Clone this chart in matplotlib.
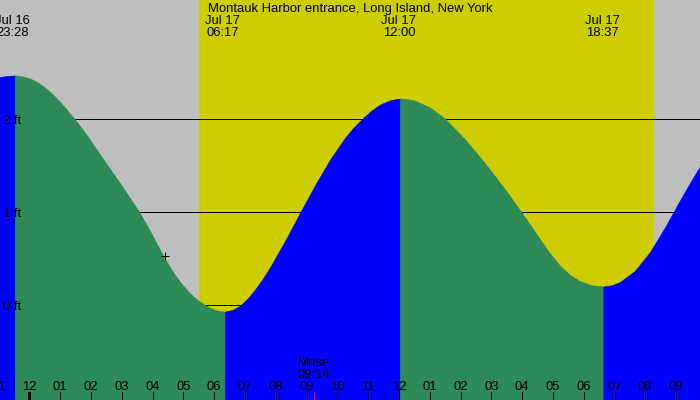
import numpy as np
import matplotlib
matplotlib.use("Agg")
import matplotlib.pyplot as plt

# tide curve: hours from Jul 17 00:00, height in ft
curve_hours = [-1.0, -0.724, -0.464, -0.237, 0.023, 0.266, 0.510, 0.753, 0.997, 1.484,
               1.890, 2.295, 2.620, 2.945, 3.269, 3.562, 3.756, 3.919, 4.114, 4.341,
               4.568, 4.731, 4.958, 5.218, 5.477, 5.705, 5.867, 6.029, 6.192, 6.354,
               6.614, 6.864, 7.101, 7.328, 7.571, 7.815, 8.302, 8.789, 9.276, 9.763,
               10.250, 10.510, 10.802, 11.094, 11.386, 11.711, 12.036,
               12.263, 12.523, 13.010, 13.497, 14.146, 14.795, 15.445, 15.997, 16.419,
               16.841, 17.231, 17.555, 17.880, 18.269, 18.636,
               18.919, 19.179, 19.666, 20.153, 20.640, 21.094, 21.451, 21.825]
curve_feet = [2.452, 2.466, 2.471, 2.463, 2.439, 2.398, 2.342, 2.271, 2.189, 1.998,
              1.819, 1.622, 1.467, 1.313, 1.153, 1.005, 0.896, 0.800, 0.677, 0.535,
              0.409, 0.326, 0.224, 0.127, 0.054, 0.003, -0.027, -0.048, -0.062, -0.068,
              -0.048, 0.002, 0.077, 0.169, 0.281, 0.409, 0.691, 0.994, 1.291, 1.566,
              1.800, 1.905, 2.003, 2.090, 2.158, 2.205, 2.224,
              2.218, 2.200, 2.127, 2.006, 1.785, 1.527, 1.248, 0.992, 0.789,
              0.586, 0.425, 0.326, 0.259, 0.215, 0.202,
              0.216, 0.251, 0.372, 0.573, 0.839, 1.110, 1.317, 1.520]

event_hours = [-0.533, 6.283, 12.0, 18.617]
event_dates = ["Jul 16", "Jul 17", "Jul 17", "Jul 17"]
event_times = ["23:28", "06:17", "12:00", "18:37"]

sunrise = 5.51
sunset = 20.28
moonrise = 9.233
moonrise_label = "09:14"
now_hour, now_feet = 4.41, 0.53

grid_feet = [0, 1, 2]
grid_labels = ["0 ft", "1 ft", "2 ft"]

tick_hours = list(range(-1, 22))
tick_labels = ["11", "12", "01", "02", "03", "04", "05", "06", "07", "08", "09", "10", "11",
               "12", "01", "02", "03", "04", "05", "06", "07", "08", "09"]

title = "Montauk Harbor entrance, Long Island, New York"

# pixel layout of the 700x400 picture
X0, PX_H = 29.3, 30.8
Y0, PX_FT = 305.3, 93.0

def tx(xp):
    return (xp - X0) / PX_H

def hy(yp):
    return (Y0 - yp) / PX_FT

plt.rcParams['font.family'] = ['Liberation Sans', 'DejaVu Sans']
FS = 9.4
PX = 0.72  # one pixel in points

fig = plt.figure(figsize=(7, 4), dpi=100)
ax = fig.add_axes([0, 0, 1, 1])
ax.set_xlim(tx(0), tx(700))
ax.set_ylim(hy(400), hy(0))
ax.axis('off')
ax.axvspan(tx(-50), tx(750), color='#BEBEBE', zorder=0, lw=0)
ax.axvspan(sunrise, sunset, color='#CDCD00', zorder=0.5, lw=0)

for f in grid_feet:
    ax.axhline(f, color='black', lw=PX, zorder=1, antialiased=False)

# rising runs blue, falling runs green
t = np.array(curve_hours)
h = np.array(curve_feet)
rising = np.diff(h) > 0
start = 0
for i in range(1, len(rising) + 1):
    if i == len(rising) or rising[i] != rising[start]:
        col = '#0000FF' if rising[start] else '#2E8B57'
        ax.fill_between(t[start:i + 1], h[start:i + 1], hy(450), facecolor=col,
                        edgecolor=col, lw=0.6 * PX, zorder=2, antialiased=False)
        start = i

ax.plot([now_hour], [now_feet], marker='+', ms=8 * PX, mew=PX, color='black', zorder=3)

# texts
ax.text(0.5, hy(12), title, transform=ax.get_yaxis_transform(), ha='center',
        va='baseline', fontsize=FS, zorder=4)
for eh, ed, et in zip(event_hours, event_dates, event_times):
    ax.text(eh, hy(24), ed, ha='center', va='baseline', fontsize=FS, zorder=4)
    ax.text(eh, hy(36), et, ha='center', va='baseline', fontsize=FS, zorder=4)

for f, lab in zip(grid_feet, grid_labels):
    ax.text(tx(3), f - 5 / PX_FT, lab, ha='left', va='baseline', fontsize=FS, zorder=4)

for hr, lab in zip(tick_hours, tick_labels):
    ax.text(hr, hy(390), lab, ha='center', va='baseline', fontsize=FS, zorder=4)
    lw = 3 * PX if hr == 0 else PX
    ax.vlines(hr, hy(400), hy(392), color='black', lw=lw, zorder=4, antialiased=False)

ax.vlines(moonrise, hy(400), hy(392), color='red', lw=PX, zorder=4, antialiased=False)
ax.text(moonrise, hy(366.5), "Mrise", ha='center', va='baseline', fontsize=FS, zorder=4)
ax.text(moonrise, hy(378.5), moonrise_label, ha='center', va='baseline', fontsize=FS, zorder=4)

fig.savefig('out.png', dpi=100)
